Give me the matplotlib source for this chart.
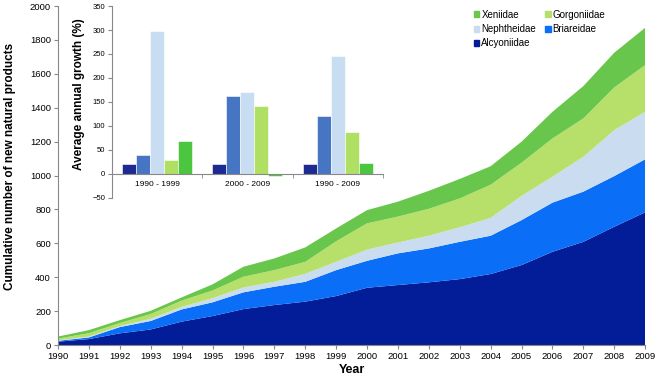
import numpy as np
import matplotlib.pyplot as plt
from matplotlib.patches import Patch

plt.rcParams['font.family'] = ['Liberation Sans', 'DejaVu Sans']

# Кумулятивна кількість нових сполук (товщина кожного шару)
years = list(range(1990, 2010))
alcyoniidae = [20, 35, 69, 92, 138, 171, 212, 236, 256, 289,
               338, 354, 370, 389, 419, 472, 550, 609, 698, 783]
briareidae = [5, 10, 37, 50, 72, 81, 99, 108, 117, 153,
              159, 187, 200, 220, 226, 265, 290, 296, 299, 313]
nephtheidae = [3, 5, 6, 13, 15, 25, 29, 29, 47, 49,
               66, 64, 75, 86, 105, 143, 153, 206, 271, 280]
gorgoniidae = [10, 20, 18, 28, 37, 45, 63, 69, 71, 121,
               155, 153, 159, 170, 196, 196, 226, 226, 252, 276]
xeniidae = [12, 18, 17, 19, 19, 36, 59, 69, 85, 76,
            78, 88, 106, 115, 109, 124, 157, 191, 205, 220]

# Середній річний приріст (%) для вставки
periods = ['1990 - 1999', '2000 - 2009', '1990 - 2009']
growth_alcyoniidae = [21, 21, 20]
growth_briareidae = [39, 163, 120]
growth_nephtheidae = [297, 171, 245]
growth_gorgoniidae = [28, 141, 87]
growth_xeniidae = [69, -4, 22]

families = ['Alcyoniidae', 'Briareidae', 'Nephtheidae', 'Gorgoniidae', 'Xeniidae']
area_colors = ['#031c98', '#0a6ef7', '#cadcf0', '#b6e06a', '#69c64c']
bar_colors = ['#1c2a92', '#4675c4', '#c8dcf2', '#afdf63', '#4dc63f']

fig = plt.figure(figsize=(6.59, 3.8), dpi=100)
ax = fig.add_axes([0.088, 0.092, 0.891, 0.892])

polys = ax.stackplot(years, alcyoniidae, briareidae, nephtheidae, gorgoniidae,
                     xeniidae, colors=area_colors, linewidth=0)

ax.set_xlim(1990, 2009)
ax.set_ylim(0, 2000)
ax.set_xticks(years)
ax.set_yticks(range(0, 2001, 200))
ax.tick_params(labelsize=6.8, length=3, color='#888888', pad=2)
for side in ['top', 'right']:
    ax.spines[side].set_visible(False)
for side in ['left', 'bottom']:
    ax.spines[side].set_color('#888888')
ax.set_xlabel('Year', fontsize=9, fontweight='bold', labelpad=2)
ax.set_ylabel('Cumulative number of new natural products', fontsize=8.5,
              fontweight='bold')
ax.yaxis.set_label_coords(-0.071, 0.528)

# Легенда: два стовпці, заповнення по рядках
handles = [Patch(color=area_colors[i]) for i in range(5)]
order = [4, 2, 0, 3, 1]
ax.legend([handles[i] for i in order], [families[i] for i in order],
          ncol=2, frameon=False, fontsize=7, handlelength=0.6, handleheight=0.6,
          handletextpad=0.2, columnspacing=0.9, labelspacing=0.45,
          loc='upper left', bbox_to_anchor=(0.693, 1.015))

# Вставка зі стовпчиками
ins = fig.add_axes([0.170, 0.480, 0.411, 0.504])
ins.patch.set_alpha(0)
x = np.arange(len(periods))
w = 0.155
series = [growth_alcyoniidae, growth_briareidae, growth_nephtheidae,
          growth_gorgoniidae, growth_xeniidae]
for i, vals in enumerate(series):
    ins.bar(x + (i - 2) * w, vals, width=w, color=bar_colors[i],
            edgecolor='white', linewidth=0.4)

ins.set_xlim(-0.5, 2.5)
ins.set_ylim(-50, 350)
ins.set_yticks(range(-50, 351, 50))
ins.set_xticks(x)
ins.set_xticklabels(periods)
ins.set_xticks([0.5, 1.5, 2.5], minor=True)
ins.tick_params(axis='x', which='major', length=0, pad=5, labelsize=6)
ins.tick_params(axis='x', which='minor', length=3, color='#888888')
for lbl in ins.get_xticklabels():
    lbl.set_fontweight('bold')
ins.tick_params(axis='y', labelsize=5.5, length=3, color='#888888', pad=2)
ins.spines['bottom'].set_position(('data', 0))
for side in ['top', 'right']:
    ins.spines[side].set_visible(False)
for side in ['left', 'bottom']:
    ins.spines[side].set_color('#888888')
ins.set_ylabel('Average annual growth (%)', fontsize=8.5, fontweight='bold',
               labelpad=2)
ins.yaxis.set_label_coords(-0.1, 0.54)

fig.savefig('out.png', dpi=100)
